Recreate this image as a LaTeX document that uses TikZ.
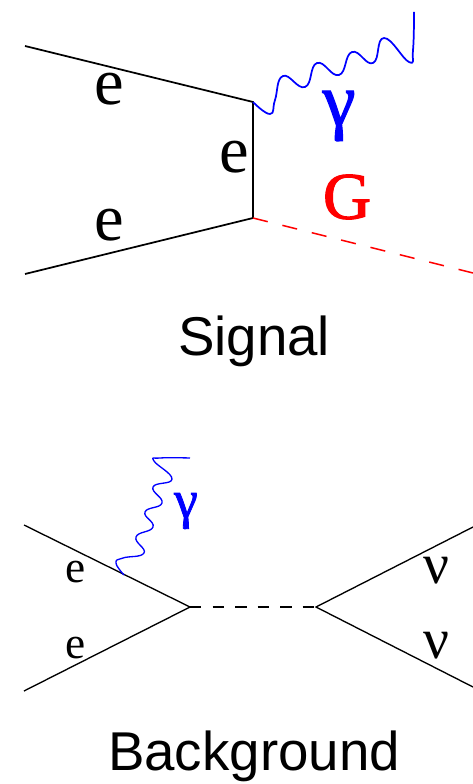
\documentclass[tikz,border=0pt]{standalone}
\usepackage{fontspec}
\setmainfont{Liberation Serif}
\setsansfont{Liberation Sans}
\newfontfamily\heavyserif[FakeBold=1.6]{Liberation Serif}
\definecolor{c1}{HTML}{000000}
\definecolor{c2}{HTML}{0000FF}
\definecolor{c3}{HTML}{FF0000}

\begin{document}
\begin{tikzpicture}[
    x=0.75pt, y=-0.75pt,
    every node/.style={inner sep=0pt},
    lep/.style={c1, line width=1.3pt},
    thinlep/.style={c1, line width=1.0pt},
    wave/.style={c2, line width=1.3pt, line join=round},
    thinwave/.style={c2, line width=1.0pt, line join=round},
    lab/.style={font=\fontsize{#1}{#1}\selectfont},
    hlab/.style={font=\heavyserif\fontsize{#1}{#1}\selectfont},
    title/.style={font=\sffamily\fontsize{41}{41}\selectfont, text=c1},
]
\useasboundingbox (0,0) rectangle (473,784);

% ---------------------------------------------------------------- signal
\coordinate (inA) at (25,46);
\coordinate (inB) at (25,274);
\coordinate (vA) at (253,102);
\coordinate (vB) at (253,218);
\coordinate (outG) at (473,273);
\coordinate (outP) at (414,12);

\draw[lep] (inA) -- (vA) -- (vB) -- (inB);
\draw[c3, line width=1.1pt, dash pattern=on 11.4pt off 11.3pt] (vB) -- (outG);
\draw[wave] plot[smooth, tension=0.8] coordinates {(vA) (270,114) (275,100) (283,76)
    (305,87) (317,63) (339,75) (352,52) (373,63) (384,38) (409,62) (413,50) (outP)};

\node[lab=50] (eA) at (109,89) {e};
\node[lab=50] (eB) at (109,225) {e};
\node[lab=50] (eC) at (234,157) {e};
\node[hlab=56, text=c2] (gamS) at (339,116) {γ};
\node[lab=50, text=c3] (gravS) at (347,197) {\heavyserif G};
\node[title] (sig) at (254,341) {Signal};

% ---------------------------------------------------------------- background
\coordinate (inC) at (24,525);
\coordinate (inD) at (24,691);
\coordinate (vC) at (190,607);
\coordinate (vD) at (316,607);
\coordinate (outC) at (473,527);
\coordinate (outD) at (473,687);
\coordinate (radP) at (124,575);
\coordinate (endP) at (190,458);

\draw[thinlep] (inC) -- (vC) -- (inD);
\draw[thinlep] (outC) -- (vD) -- (outD);
\draw[thinlep, dash pattern=on 8.6pt off 8.3pt] (vC) -- (vD);
\draw[thinwave] plot[smooth, tension=0.8] coordinates {(radP) (116,563) (123,558) (144,553)
    (136,537) (153,527) (145,512) (162,503) (153,487) (172,479) (154,461) (160,458) (endP)};

\node[lab=34] (eD) at (76,572) {e};
\node[lab=34] (eE) at (76,648) {e};
\node[hlab=40, text=c2] (gamB) at (186,511) {γ};
\node[lab=43] (nuA) at (436,571) {ν};
\node[lab=43] (nuB) at (436,646) {ν};
\node[title] (bkg) at (254,756) {Background};

\end{tikzpicture}
\end{document}
